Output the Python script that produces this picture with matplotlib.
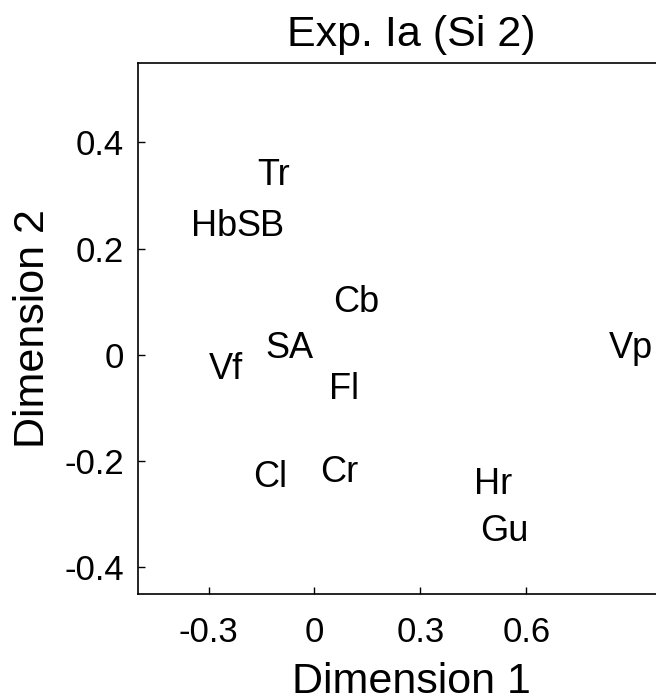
import matplotlib
matplotlib.use('Agg')
from matplotlib import pyplot as plt

'''
  MDS solution, Exp. Ia (Si 2)
  labels placed at their 2-D coordinates
'''

labels = ['Tr', 'Hb', 'SB', 'Cb', 'SA', 'Vf', 'Fl', 'Vp', 'Cl', 'Cr', 'Hr', 'Gu']
dim1 = [-0.161, -0.350, -0.220, 0.052, -0.140, -0.299, 0.040, 0.833, -0.175, 0.016, 0.451, 0.470]
dim2 = [0.338, 0.241, 0.241, 0.099, 0.013, -0.028, -0.066, 0.013, -0.231, -0.222, -0.244, -0.333]

xticks = [-0.3, 0, 0.3, 0.6]
xticklabels = ['-0.3', '0', '0.3', '0.6']
yticks = [-0.4, -0.2, 0, 0.2, 0.4]
yticklabels = ['-0.4', '-0.2', '0', '0.2', '0.4']

plt.rcParams['font.family'] = ['Liberation Sans', 'DejaVu Sans']

fig = plt.figure(figsize=(6.56, 6.94), dpi=100)
# axes runs past the right edge of the figure, as in the original crop
ax = fig.add_axes([138 / 656, 100 / 694, 547 / 656, 531.3 / 694])

for name, x, y in zip(labels, dim1, dim2):
    ax.text(x, y, name, fontsize=26, ha='left', va='center')

ax.set_xlim(-0.5, 1.05)
ax.set_ylim(-0.45, 0.55)
ax.set_xticks(xticks)
ax.set_xticklabels(xticklabels)
ax.set_yticks(yticks)
ax.set_yticklabels(yticklabels)
ax.tick_params(direction='in', length=5, width=1, labelsize=25, pad=10,
               top=False, right=False)
ax.tick_params(axis='x', pad=16)
for s in ax.spines.values():
    s.set_linewidth(1.2)

ax.set_xlabel('Dimension 1', fontsize=31, labelpad=9)
ax.set_ylabel('Dimension 2', fontsize=31, labelpad=8)
ax.set_title('Exp. Ia (Si 2)', fontsize=31, pad=12)

fig.savefig('out.png', dpi=100)
